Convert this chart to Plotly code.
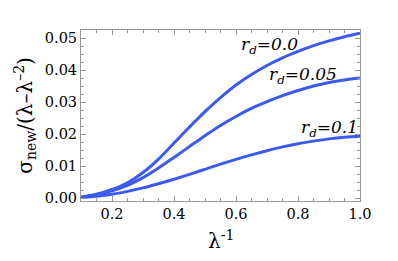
import plotly.graph_objects as go

x_vals = [0.10, 0.15, 0.20, 0.25, 0.30, 0.35, 0.40, 0.45, 0.50, 0.55,
          0.60, 0.65, 0.70, 0.75, 0.80, 0.85, 0.90, 0.95, 1.00]
y_rd00 = [0.0003, 0.0012, 0.0027, 0.0048, 0.0080, 0.0122, 0.0172, 0.0222, 0.0270, 0.0314,
          0.0353, 0.0386, 0.0414, 0.0438, 0.0458, 0.0476, 0.0491, 0.0504, 0.0515]
y_rd05 = [0.0003, 0.0011, 0.0023, 0.0040, 0.0064, 0.0094, 0.0127, 0.0161, 0.0195, 0.0227,
          0.0255, 0.0280, 0.0301, 0.0320, 0.0336, 0.0350, 0.0361, 0.0369, 0.0375]
y_rd10 = [0.0002, 0.0006, 0.0012, 0.0021, 0.0032, 0.0045, 0.0059, 0.0074, 0.0090, 0.0106,
          0.0121, 0.0135, 0.0148, 0.0160, 0.0170, 0.0178, 0.0185, 0.0190, 0.0193]

labels = ["<i>r<sub>d</sub>=0.0</i>", "<i>r<sub>d</sub>=0.05</i>", "<i>r<sub>d</sub>=0.1</i>"]
label_x = [0.707, 0.817, 0.903]
label_y = [0.0477, 0.0383, 0.0218]

x_ticks = [0.2, 0.4, 0.6, 0.8, 1.0]
y_ticks = [0.00, 0.01, 0.02, 0.03, 0.04, 0.05]

color = "#3b5bef"
FONT = "DejaVu Serif"

fig = go.Figure()
for ys in (y_rd00, y_rd05, y_rd10):
    fig.add_trace(go.Scatter(x=x_vals, y=ys, mode="lines",
                             line=dict(color=color, width=3, shape="spline"),
                             showlegend=False, hoverinfo="skip"))

for t, lx, ly in zip(labels, label_x, label_y):
    fig.add_annotation(x=lx, y=ly, text=t, showarrow=False,
                       font=dict(family=FONT, size=17, color="black"))

fig.add_annotation(xref="paper", yref="paper", x=-0.2, y=0.5,
                   xanchor="center", yanchor="middle",
                   text="σ<sub>new</sub>/(λ–λ<sup>–2</sup>)", textangle=-90,
                   showarrow=False, font=dict(family=FONT, size=20, color="black"))
fig.add_annotation(xref="paper", yref="paper", x=0.5, y=-0.23,
                   xanchor="center", yanchor="middle",
                   text="λ<sup>-1</sup>", showarrow=False,
                   font=dict(family=FONT, size=20, color="black"))

axis_common = dict(showgrid=False, zeroline=False, showline=True,
                   linecolor="#999999", linewidth=1, mirror="ticks",
                   ticks="inside", ticklen=5, tickcolor="#999999",
                   tickfont=dict(family=FONT, size=14.5, color="black"))

fig.update_xaxes(range=[0.1, 1.0], tickvals=x_ticks, tickformat=".1f",
                 minor=dict(ticks="inside", ticklen=3, tickcolor="#999999", dtick=0.05),
                 **axis_common)
fig.update_yaxes(range=[-0.0009, 0.0525], tickvals=y_ticks, tickformat=".2f",
                 minor=dict(ticks="inside", ticklen=3, tickcolor="#999999", dtick=0.0025),
                 **axis_common)

fig.update_layout(width=390, height=253,
                  margin=dict(l=73, r=38, t=22, b=60, autoexpand=False),
                  plot_bgcolor="white", paper_bgcolor="white")

fig.write_html("out.html")
